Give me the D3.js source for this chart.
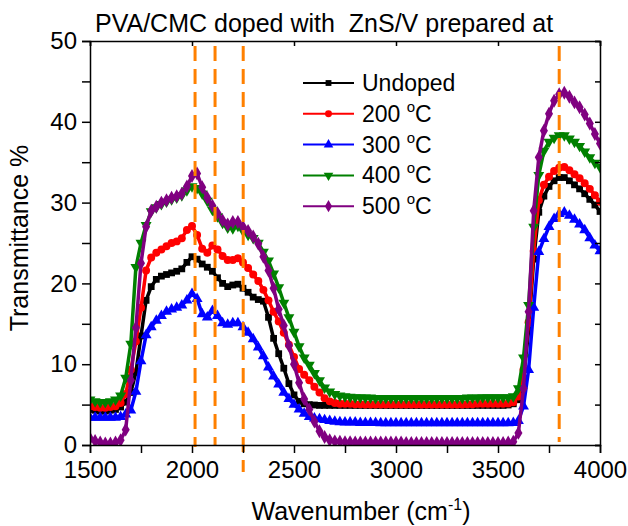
<!DOCTYPE html>
<html>
<head>
<meta charset="utf-8">
<script src="https://cdn.jsdelivr.net/npm/d3@7"></script>
<style>
  body { margin: 0; background: #fff; }
  text { font-family: "Liberation Sans", Arial, sans-serif; fill: #000; }
</style>
</head>
<body>
<script>
// wavenumber grid (cm-1), one reading every 25 cm-1
const wavenumbers = d3.range(1500, 4001, 25);

const undoped = [
  4.4,4.3,4.2,4.2,4.3,4.4,4.7,5.3,6.5,9.0,
  13.5,17.9,19.6,20.5,20.9,21.1,21.3,21.5,21.8,22.6,
  23.3,23.0,22.4,22.0,21.5,20.7,20.0,19.6,19.8,19.9,
  19.4,18.9,18.3,18.0,17.8,15.8,13.2,11.3,9.5,7.6,
  6.2,5.4,5.1,5.0,4.95,4.9,4.9,4.9,4.9,4.9,
  4.9,4.9,4.9,4.9,4.9,4.9,4.9,4.9,4.9,4.9,
  4.9,4.9,4.9,4.9,4.9,4.9,4.9,4.9,4.9,4.9,
  4.9,4.9,4.9,4.9,4.9,4.9,4.9,4.9,4.9,4.9,
  4.9,4.9,4.95,5.1,5.6,8.2,14.2,23.0,28.8,30.8,
  32.0,32.7,33.1,33.1,32.7,32.2,31.7,31.1,30.4,29.7,
  28.9
];
const t200 = [
  4.8,4.7,4.6,4.6,4.7,4.8,5.2,6.3,9.3,12.8,
  17.0,21.6,23.2,23.8,24.2,24.6,25.0,25.2,25.6,26.6,
  27.1,26.0,24.3,23.8,24.7,24.2,23.4,22.9,22.9,23.1,
  22.6,21.9,21.1,20.3,19.2,17.9,16.5,15.3,13.9,12.4,
  10.9,9.4,8.7,8.0,7.2,6.5,5.8,5.4,5.2,5.1,
  5.1,5.1,5.05,5.05,5.0,5.0,5.0,5.0,5.0,5.0,
  5.0,5.0,5.0,5.0,5.0,5.0,5.0,5.0,5.0,5.0,
  5.0,5.0,5.0,5.0,5.05,5.05,5.1,5.1,5.1,5.1,
  5.1,5.1,5.15,5.3,6.0,9.3,15.2,24.0,30.3,32.2,
  33.2,33.9,34.3,34.4,34.0,33.5,33.0,32.4,31.7,30.9,
  30.1
];
const t300 = [
  3.4,3.4,3.4,3.4,3.4,3.4,3.5,3.8,4.3,6.6,
  10.4,13.6,14.6,15.4,16.0,16.5,16.8,17.0,17.3,17.9,
  18.7,18.1,16.2,15.8,16.6,16.0,15.1,14.9,15.1,15.1,
  14.6,13.9,13.1,12.1,11.0,9.6,8.5,7.5,6.5,5.7,
  5.0,4.4,3.9,3.5,3.3,3.2,3.1,3.0,2.9,2.85,
  2.8,2.8,2.8,2.75,2.75,2.75,2.75,2.7,2.7,2.7,
  2.7,2.7,2.7,2.7,2.7,2.7,2.7,2.7,2.7,2.7,
  2.7,2.7,2.7,2.7,2.7,2.7,2.7,2.7,2.7,2.7,
  2.7,2.7,2.7,2.75,3.0,4.8,9.3,17.0,23.9,25.5,
  27.0,28.0,28.6,28.8,28.4,27.9,27.3,26.6,25.6,24.7,
  24.0
];
const t400 = [
  5.6,5.4,5.3,5.3,5.4,5.6,6.1,8.3,12.5,22.0,
  25.0,27.2,28.9,29.4,29.8,30.1,30.4,30.6,30.9,31.5,
  32.0,31.8,31.1,30.2,29.1,28.3,27.5,26.9,26.8,27.1,
  26.5,26.0,25.6,25.0,23.9,22.8,21.2,19.5,17.6,15.8,
  14.0,12.2,10.8,9.9,8.9,8.0,7.1,6.6,6.3,6.1,
  6.0,5.95,5.9,5.9,5.85,5.85,5.8,5.8,5.8,5.8,
  5.8,5.8,5.8,5.8,5.8,5.8,5.8,5.8,5.8,5.8,
  5.8,5.8,5.8,5.8,5.85,5.85,5.85,5.9,5.9,5.9,
  5.9,5.9,5.9,6.0,7.0,10.8,17.3,27.0,33.4,36.4,
  37.5,38.0,38.3,38.3,37.9,37.5,37.0,36.3,35.6,34.9,
  34.4
];
const t500 = [
  0.8,0.5,0.3,0.2,0.2,0.3,0.6,1.9,8.0,14.5,
  22.5,27.0,29.0,29.5,30.0,30.3,30.6,30.8,31.1,32.0,
  33.3,33.6,31.9,30.6,29.6,28.7,27.8,27.3,27.6,27.6,
  27.0,26.5,25.8,24.9,23.3,21.6,19.4,16.8,14.8,12.3,
  10.0,7.7,5.7,4.4,2.9,1.7,1.0,0.6,0.45,0.4,
  0.35,0.35,0.3,0.3,0.3,0.3,0.3,0.3,0.3,0.3,
  0.3,0.3,0.25,0.25,0.25,0.25,0.25,0.25,0.25,0.25,
  0.25,0.25,0.25,0.25,0.25,0.25,0.25,0.25,0.25,0.25,
  0.25,0.25,0.3,0.4,1.5,7.0,16.5,29.0,35.6,38.9,
  41.0,42.6,43.4,43.6,43.1,42.4,41.8,40.9,39.8,38.5,
  37.3
];

const seriesNames = ['Undoped', '200 ºC', '300 ºC', '400 ºC', '500 ºC'];
const seriesValues = [undoped, t200, t300, t400, t500];
const seriesColors = ['#000000', '#ff0000', '#0000ff', '#008000', '#800080'];

// vertical marker lines (cm-1)
const markLines = [2015, 2113, 2251, 3800];

const xTicks = [1500, 2000, 2500, 3000, 3500, 4000];
const yTicks = [0, 10, 20, 30, 40, 50];

const W = 628, H = 526;
const margin = {left: 90, right: 28, top: 41, bottom: 81};
const innerW = W - margin.left - margin.right;
const innerH = H - margin.top - margin.bottom;

const svg = d3.select('body').append('svg')
  .attr('width', W).attr('height', H);

const x = d3.scaleLinear().domain([1500, 4000]).range([margin.left, margin.left + innerW]);
const y = d3.scaleLinear().domain([0, 50]).range([margin.top + innerH, margin.top]);

svg.append('clipPath').attr('id', 'plot')
  .append('rect')
  .attr('x', margin.left).attr('y', margin.top)
  .attr('width', innerW).attr('height', innerH);

const symbols = [
  d3.symbol().type(d3.symbolSquare).size(46),
  d3.symbol().type(d3.symbolCircle).size(50),
  d3.symbol().type(d3.symbolTriangle).size(52),
  d3.symbol().type(d3.symbolTriangle).size(52),
  d3.symbol().type(d3.symbolDiamond).size(56)
];
const legendSymbols = [
  d3.symbol().type(d3.symbolSquare).size(34),
  d3.symbol().type(d3.symbolCircle).size(38),
  d3.symbol().type(d3.symbolTriangle).size(40),
  d3.symbol().type(d3.symbolTriangle).size(40),
  d3.symbol().type(d3.symbolDiamond).size(44)
];
const rotations = [0, 0, 0, 180, 0];

const line = d3.line().x(d => x(d[0])).y(d => y(d[1]));

const plot = svg.append('g').attr('clip-path', 'url(#plot)');
seriesValues.forEach((vals, i) => {
  const pts = wavenumbers.map((w, j) => [w, vals[j]]);
  const g = plot.append('g');
  g.append('path')
    .attr('d', line(pts))
    .attr('fill', 'none')
    .attr('stroke', seriesColors[i])
    .attr('stroke-width', 3.5)
    .attr('stroke-linejoin', 'round');
  g.selectAll('path.m')
    .data(pts).enter().append('path')
    .attr('class', 'm')
    .attr('d', symbols[i])
    .attr('fill', seriesColors[i])
    .attr('transform', d => `translate(${x(d[0])},${y(d[1])}) rotate(${rotations[i]})`);
});

// orange dashed lines
const lineEnds = [447, 445, 472, 442];
svg.selectAll('line.mark')
  .data(markLines).enter().append('line')
  .attr('x1', d => x(d)).attr('x2', d => x(d))
  .attr('y1', 46)
  .attr('y2', (d, i) => lineEnds[i])
  .attr('stroke', '#ff8000')
  .attr('stroke-width', 3)
  .attr('stroke-dasharray', '15,8');

// axes
const axBottom = svg.append('g')
  .attr('transform', `translate(0,${margin.top + innerH})`)
  .call(d3.axisBottom(x).tickValues(d3.range(1500, 4001, 250)).tickSize(8)
    .tickFormat(d => xTicks.includes(d) ? d : ''));
const axLeft = svg.append('g')
  .attr('transform', `translate(${margin.left},0)`)
  .call(d3.axisLeft(y).tickValues(d3.range(0, 51, 5)).tickSize(8)
    .tickFormat(d => yTicks.includes(d) ? d : ''));
const axTop = svg.append('g')
  .attr('transform', `translate(0,${margin.top})`)
  .call(d3.axisTop(x).tickValues(d3.range(1500, 4001, 500)).tickSize(-5).tickFormat(''));
const axRight = svg.append('g')
  .attr('transform', `translate(${margin.left + innerW},0)`)
  .call(d3.axisRight(y).tickValues(d3.range(0, 51, 5)).tickSize(-5).tickFormat(''));

[axBottom, axLeft, axTop, axRight].forEach(a => {
  a.select('.domain').attr('stroke-width', 1.5).attr('stroke', '#000');
  a.selectAll('.tick line').attr('stroke-width', 1.5);
});
axBottom.selectAll('text').attr('font-size', 24).attr('dy', '1.0em').attr('y', 9);
axLeft.selectAll('text').attr('font-size', 24).attr('x', -13);

// titles
svg.append('text')
  .attr('x', 95).attr('y', 32)
  .attr('font-size', 25)
  .attr('xml:space', 'preserve')
  .text('PVA/CMC doped with  ZnS/V prepared at');

const xl = svg.append('text')
  .attr('x', 361).attr('y', 520)
  .attr('text-anchor', 'middle')
  .attr('font-size', 25);
xl.append('tspan').text('Wavenumber (cm');
xl.append('tspan').attr('font-size', 16).attr('dy', -10).text('-1');
xl.append('tspan').attr('dy', 10).text(')');

svg.append('text')
  .attr('transform', 'translate(28,238) rotate(-90)')
  .attr('text-anchor', 'middle')
  .attr('font-size', 25)
  .text('Transmittance %');

// legend
const legend = svg.append('g');
seriesNames.forEach((name, i) => {
  const ly = 83 + i * 30.8;
  legend.append('line')
    .attr('x1', 303).attr('x2', 354).attr('y1', ly).attr('y2', ly)
    .attr('stroke', seriesColors[i]).attr('stroke-width', 2);
  legend.append('path')
    .attr('d', legendSymbols[i])
    .attr('fill', seriesColors[i])
    .attr('transform', `translate(328.5,${ly}) rotate(${rotations[i]})`);
  const t = legend.append('text')
    .attr('x', 362).attr('y', ly + 8)
    .attr('font-size', 23);
  if (i === 0) {
    t.text(name);
  } else {
    t.append('tspan').text(name.split(' ')[0] + ' ');
    t.append('tspan').attr('font-size', 15).attr('dy', -10).text('o');
    t.append('tspan').attr('dy', 10).text('C');
  }
});
</script>
</body>
</html>
